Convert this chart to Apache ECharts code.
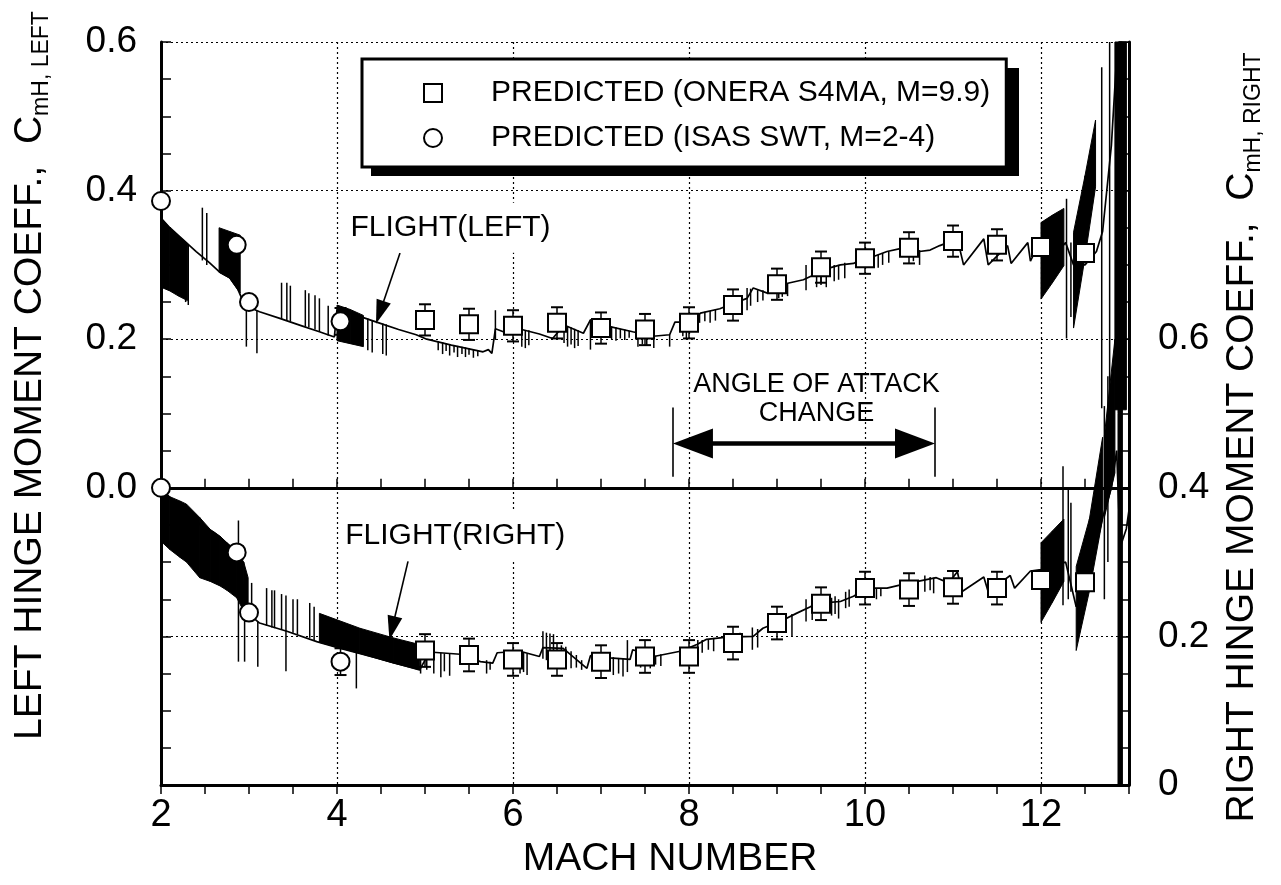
<!DOCTYPE html>
<html><head><meta charset="utf-8">
<script src="https://cdn.jsdelivr.net/npm/echarts@6/dist/echarts.min.js"></script>
<style>html,body{margin:0;padding:0;background:#fff}#c{width:1281px;height:885px}</style>
</head><body><div id="c"></div>
<script>
const FONT = "'Liberation Sans', Arial, Helvetica, sans-serif";

// ---- axis tick labels ----
const machTicks = [2, 4, 6, 8, 10, 12];
const machTickLabels = ['2', '4', '6', '8', '10', '12'];
const leftTicks = [0.0, 0.2, 0.4, 0.6];
const leftTickLabels = ['0.0', '0.2', '0.4', '0.6'];
const rightTicks = [0, 0.2, 0.4, 0.6];
const rightTickLabels = ['0', '0.2', '0.4', '0.6'];

// ---- predicted (ONERA S4MA) ----
const oneraName = 'PREDICTED (ONERA S4MA, M=9.9)';
const oneraMach = [5, 5.5, 6, 6.5, 7, 7.5, 8, 8.5, 9, 9.5, 10, 10.5, 11, 11.5, 12, 12.5];
const oneraLeft = [0.226, 0.220, 0.218, 0.222, 0.215, 0.213, 0.222, 0.246, 0.274, 0.297, 0.309, 0.323, 0.332, 0.327, 0.324, 0.316];
const oneraLeftErr = [0.021, 0.021, 0.021, 0.021, 0.021, 0.021, 0.021, 0.021, 0.021, 0.021, 0.021, 0.021, 0.021, 0.021, 0, 0];
const oneraRight = [0.181, 0.175, 0.169, 0.169, 0.166, 0.173, 0.173, 0.191, 0.218, 0.244, 0.265, 0.263, 0.266, 0.265, 0.276, 0.273];
const oneraRightErr = [0.022, 0.022, 0.022, 0.022, 0.022, 0.022, 0.022, 0.022, 0.022, 0.022, 0.022, 0.022, 0.022, 0.022, 0, 0];

// ---- predicted (ISAS SWT) ----
const isasName = 'PREDICTED (ISAS SWT, M=2-4)';
const isasMach = [2.0, 2.86, 3.0, 4.04];
const isasLeft = [0.386, 0.327, 0.250, 0.224];
const isasRight = [0.400, 0.313, 0.232, 0.166];
const isasErr = [0, 0, 0, 0.018];

// ---- flight, left (left axis units) ----
const flightLeft = [
  [2.00,0.363],[2.10,0.350],[2.25,0.334],[2.40,0.318],[2.55,0.303],[2.67,0.290],[2.78,0.283],[2.87,0.268],[2.94,0.249],[3.00,0.243],
  [3.12,0.237],[3.35,0.228],[3.60,0.218],[3.80,0.210],[3.97,0.203],[4.00,0.240],[4.15,0.235],[4.30,0.229],[4.45,0.223],[4.70,0.213],
  [4.90,0.206],[5.02,0.200],[5.30,0.192],[5.50,0.187],[5.66,0.183],[5.72,0.186],[5.76,0.181],[5.80,0.214],[5.89,0.210],[6.10,0.213],
  [6.30,0.207],[6.45,0.201],[6.58,0.219],[6.80,0.208],[6.88,0.226],[7.10,0.217],[7.36,0.210],[7.59,0.204],[7.78,0.206],[7.84,0.223],
  [7.97,0.223],[8.13,0.235],[8.35,0.241],[8.50,0.248],[8.66,0.255],[8.73,0.269],[8.89,0.262],[9.00,0.271],[9.11,0.275],[9.30,0.280],
  [9.41,0.286],[9.60,0.296],[9.72,0.300],[9.87,0.302],[9.98,0.309],[10.09,0.311],[10.25,0.318],[10.40,0.322],[10.62,0.318],[10.74,0.320],
  [10.85,0.326],[11.05,0.335],[11.12,0.300],[11.35,0.335],[11.40,0.300],[11.62,0.326],[11.66,0.302],[11.85,0.330],[11.88,0.305],[12.00,0.335],
  [12.05,0.300],[12.28,0.330],[12.37,0.300],[12.50,0.300],[12.63,0.318],[12.70,0.345],[12.80,0.461],[12.87,0.600]
];
// ---- flight, right (right axis units) ----
const flightRight = [
  [2.00,0.400],[2.15,0.380],[2.30,0.365],[2.45,0.350],[2.60,0.340],[2.75,0.325],[2.88,0.310],[2.94,0.260],[2.98,0.234],[3.05,0.225],
  [3.12,0.218],[3.43,0.207],[3.77,0.193],[4.03,0.184],[4.45,0.171],[4.94,0.155],[5.05,0.179],[5.40,0.176],[5.63,0.166],[5.77,0.164],
  [5.82,0.178],[6.08,0.180],[6.30,0.173],[6.34,0.185],[6.57,0.184],[6.84,0.157],[6.88,0.174],[7.10,0.171],[7.33,0.169],[7.36,0.182],
  [7.60,0.173],[7.90,0.180],[8.09,0.189],[8.20,0.196],[8.43,0.199],[8.73,0.200],[8.84,0.211],[9.07,0.222],[9.22,0.231],[9.38,0.240],
  [9.53,0.245],[9.72,0.247],[9.87,0.254],[10.02,0.265],[10.25,0.265],[10.43,0.270],[10.81,0.279],[10.95,0.272],[11.05,0.287],[11.10,0.260],
  [11.35,0.280],[11.40,0.260],[11.65,0.282],[11.70,0.265],[11.88,0.288],[12.00,0.290],[12.28,0.300],[12.40,0.240],[12.55,0.280],[12.70,0.360],
  [12.80,0.400],[12.86,0.450],[12.90,0.320],[12.97,0.345],[13.00,0.370]
];

// dense (black) regions of the flight traces: [mach, low, high]
const bandsLeft = [
  [[2.00,0.270,0.363],[2.10,0.265,0.350],[2.20,0.258,0.339],[2.30,0.252,0.329]],
  [[2.66,0.290,0.350],[2.78,0.282,0.345],[2.90,0.262,0.340]],
  [[4.00,0.198,0.246],[4.15,0.194,0.240],[4.30,0.190,0.232]],
  [[12.00,0.254,0.357],[12.13,0.276,0.367],[12.26,0.299,0.376]],
  [[12.37,0.215,0.344],[12.50,0.310,0.420],[12.62,0.405,0.495]],
  [[12.84,0.105,0.600],[12.97,0.105,0.600]],
  [[12.875,-0.400,0.600],[12.925,-0.400,0.600]]
];
const bandsRight = [
  [[2.00,0.328,0.400],[2.10,0.317,0.388],[2.22,0.306,0.382],[2.29,0.300,0.378],[2.44,0.279,0.360],[2.56,0.274,0.344],[2.67,0.268,0.335],[2.75,0.262,0.326],[2.86,0.252,0.315],[2.94,0.234,0.300],[2.99,0.230,0.279]],
  [[3.80,0.192,0.231],[4.26,0.177,0.211],[4.64,0.164,0.198],[4.94,0.155,0.189]],
  [[12.00,0.219,0.326],[12.13,0.246,0.342],[12.26,0.274,0.358]],
  [[12.40,0.181,0.294],[12.55,0.261,0.358],[12.70,0.358,0.468]],
  [[12.72,0.360,0.470],[12.84,0.420,0.600]]
];

// single spikes of the flight traces: [mach, low, high]
const spikesLeft = [
  [2.28,0.250,0.330],[2.31,0.246,0.327],[2.47,0.306,0.377],[2.52,0.300,0.370],[2.97,0.190,0.246],[3.09,0.181,0.238],
  [3.37,0.227,0.276],[3.43,0.225,0.276],[3.47,0.224,0.272],[3.64,0.217,0.266],[3.68,0.216,0.262],[3.75,0.213,0.259],[3.80,0.210,0.255],[3.90,0.205,0.245],
  [4.35,0.185,0.228],[4.40,0.182,0.225],[4.52,0.180,0.221],[4.56,0.178,0.220],
  [5.15,0.185,0.197],[5.20,0.180,0.196],[5.24,0.184,0.195],[5.28,0.178,0.193],[5.33,0.182,0.192],[5.37,0.176,0.191],[5.42,0.180,0.190],
  [5.46,0.176,0.189],[5.50,0.179,0.188],[5.55,0.175,0.186],[5.60,0.177,0.185],[5.80,0.199,0.239],
  [6.10,0.190,0.214],[6.14,0.188,0.212],[6.18,0.192,0.212],
  [6.58,0.195,0.219],[6.62,0.190,0.217],[6.66,0.193,0.216],[6.70,0.188,0.214],[6.74,0.191,0.212],[6.88,0.186,0.226],
  [7.12,0.200,0.217],[7.17,0.198,0.216],[7.22,0.201,0.214],[7.27,0.199,0.213],[7.32,0.202,0.211],
  [7.42,0.190,0.208],[7.47,0.193,0.207],[7.52,0.191,0.206],[7.60,0.188,0.204],[7.78,0.190,0.206],[7.93,0.204,0.223],[7.97,0.200,0.223],
  [8.12,0.222,0.235],[8.18,0.224,0.237],[8.24,0.222,0.238],[8.30,0.225,0.240],
  [8.66,0.239,0.269],[8.70,0.245,0.268],[8.78,0.250,0.266],[8.84,0.252,0.266],[9.02,0.255,0.272],[9.06,0.257,0.274],[9.12,0.258,0.275],
  [9.33,0.266,0.300],[9.45,0.270,0.292],[9.50,0.273,0.294],[9.56,0.270,0.296],[9.65,0.278,0.300],[9.70,0.280,0.300],[9.77,0.282,0.303],
  [10.15,0.296,0.314],[10.20,0.300,0.316],[10.27,0.303,0.318],[10.55,0.305,0.322],[10.62,0.300,0.320],
  [12.29,0.201,0.389],[12.34,0.230,0.330],[12.69,0.107,0.566],[12.78,0.105,0.600]
];
const spikesRight = [
  [2.88,0.166,0.356],[2.95,0.166,0.260],[3.03,0.224,0.272],[3.10,0.159,0.220],[3.20,0.214,0.265],[3.26,0.212,0.262],[3.29,0.211,0.262],
  [3.37,0.209,0.257],[3.42,0.153,0.255],[3.50,0.205,0.250],[3.55,0.203,0.250],[3.69,0.198,0.245],[3.74,0.195,0.240],[4.22,0.130,0.179],
  [4.95,0.150,0.185],[5.02,0.155,0.178],[5.10,0.150,0.178],[5.18,0.145,0.178],[5.22,0.153,0.177],[5.28,0.147,0.177],[5.70,0.150,0.168],[5.74,0.155,0.166],
  [6.08,0.150,0.180],[6.12,0.152,0.178],[6.16,0.148,0.177],[6.34,0.170,0.207],[6.38,0.168,0.205],[6.42,0.166,0.204],[6.46,0.170,0.203],
  [6.55,0.160,0.188],[6.60,0.162,0.186],[6.66,0.157,0.180],[6.72,0.158,0.175],[6.78,0.155,0.168],
  [7.14,0.148,0.172],[7.20,0.150,0.171],[7.25,0.146,0.170],[7.30,0.152,0.195],
  [7.45,0.158,0.175],[7.50,0.160,0.174],[7.56,0.157,0.173],[7.62,0.162,0.174],[7.68,0.160,0.176],
  [8.10,0.180,0.195],[8.15,0.178,0.195],[8.22,0.182,0.196],[8.28,0.180,0.198],[8.58,0.178,0.205],[8.72,0.182,0.212],[8.78,0.185,0.210],
  [9.17,0.200,0.230],[9.33,0.220,0.250],[9.40,0.222,0.242],[9.62,0.228,0.252],[9.66,0.230,0.254],[9.70,0.224,0.250],[9.78,0.238,0.260],[9.82,0.240,0.263],
  [10.06,0.252,0.265],[10.13,0.250,0.264],[10.18,0.254,0.265],[10.68,0.260,0.282],[10.74,0.262,0.280],[10.78,0.258,0.279],
  [12.25,0.242,0.429],[12.31,0.250,0.400],[12.34,0.260,0.380],[12.72,0.250,0.510],[12.76,0.300,0.550]
];

// ---- helpers ----
function pickLabel(v, ticks, labels) {
  for (let i = 0; i < ticks.length; i++) if (Math.abs(v - ticks[i]) < 1e-6) return labels[i];
  return '';
}
const bandData = bands => bands.flatMap(b => b.slice(0, -1).map((p, i) => [p[0], p[1], p[2], b[i + 1][0], b[i + 1][1], b[i + 1][2]]));
function renderBand(params, api) {
  const a = api.coord([api.value(0), api.value(2)]);
  const b = api.coord([api.value(3), api.value(5)]);
  const c = api.coord([api.value(3), api.value(4)]);
  const d = api.coord([api.value(0), api.value(1)]);
  return { type: 'polygon', shape: { points: [a, b, c, d] }, style: { fill: '#000', stroke: '#000', lineWidth: 1 } };
}
function renderSpike(params, api) {
  const a = api.coord([api.value(0), api.value(1)]);
  const b = api.coord([api.value(0), api.value(2)]);
  return { type: 'line', shape: { x1: a[0], y1: a[1], x2: b[0], y2: b[1] }, style: { stroke: '#000', lineWidth: 1.5 } };
}
function renderErr(params, api) {
  const x = api.value(0), v = api.value(1), e = api.value(2);
  if (!e) return null;
  const t = api.coord([x, v + e]), b = api.coord([x, v - e]);
  const w = 6;
  return { type: 'group', children: [
    { type: 'line', shape: { x1: t[0], y1: t[1], x2: b[0], y2: b[1] }, style: { stroke: '#000', lineWidth: 1.5 } },
    { type: 'line', shape: { x1: t[0] - w, y1: t[1], x2: t[0] + w, y2: t[1] }, style: { stroke: '#000', lineWidth: 2 } },
    { type: 'line', shape: { x1: b[0] - w, y1: b[1], x2: b[0] + w, y2: b[1] }, style: { stroke: '#000', lineWidth: 2 } }
  ] };
}
const zip3 = (m, v, e) => m.map((x, i) => [x, v[i], e[i]]);
const zip2 = (m, v) => m.map((x, i) => [x, v[i]]);

const axisLineStyle = { color: '#000', width: 3 };
const tickStyle = { color: '#000', width: 1.5 };
const gridDotted = { color: '#000', width: 1.2, type: [2, 3] };
const symStyle = { color: '#fff', borderColor: '#000', borderWidth: 2, opacity: 1 };
const annLabel = { color: '#000', fontFamily: FONT, fontSize: 30 };
const titleRich = {
  m: { fontFamily: FONT, fontSize: 39, lineHeight: 46, verticalAlign: 'middle', color: '#000' },
  s: { fontFamily: FONT, fontSize: 23, lineHeight: 20, verticalAlign: 'bottom', color: '#000' }
};

const chart = echarts.init(document.getElementById('c'), null, { renderer: 'canvas' });
chart.setOption({
  animation: false,
  backgroundColor: '#fff',
  grid: { left: 161, top: 42, width: 968, height: 743 },
  graphic: [
    { type: 'rect', z: 3, silent: true, shape: { x: 371, y: 68, width: 648, height: 108 }, style: { fill: '#000' } }
  ],
  legend: {
    left: 362, top: 59, orient: 'vertical', data: [oneraName, isasName], selectedMode: false, z: 5,
    itemWidth: 18, itemHeight: 18, itemGap: 11, padding: [17, 16, 12, 61],
    borderColor: '#000', borderWidth: 3, backgroundColor: '#fff',
    itemStyle: { color: '#fff', borderColor: '#000', borderWidth: 2, opacity: 1 },
    textStyle: { fontFamily: FONT, fontSize: 30, color: '#000', padding: [0, 0, 0, 44], lineHeight: 34 }
  },
  xAxis: [
    { type: 'value', position: 'bottom', min: 2, max: 13, interval: 0.5,
      axisLine: { lineStyle: axisLineStyle }, axisTick: { inside: true, length: 9, lineStyle: tickStyle },
      splitLine: { show: false },
      axisLabel: { color: '#000', fontFamily: FONT, fontSize: 38, margin: 12, formatter: v => pickLabel(v, machTicks, machTickLabels) },
      name: 'MACH NUMBER', nameLocation: 'middle', nameGap: 54,
      nameTextStyle: { color: '#000', fontFamily: FONT, fontSize: 39, padding: [0, 0, 0, 50] } },
    { type: 'value', position: 'top', min: 2, max: 13, interval: 0.5,
      axisLine: { lineStyle: axisLineStyle }, axisTick: { inside: true, length: 9, lineStyle: tickStyle },
      axisLabel: { show: false }, splitLine: { show: false } },
    { type: 'value', position: 'bottom', min: 2, max: 13, interval: 2,
      axisLine: { show: false }, axisTick: { show: false }, axisLabel: { show: false },
      splitLine: { show: true, lineStyle: gridDotted } }
  ],
  yAxis: [
    { type: 'value', position: 'left', min: -0.4, max: 0.6, interval: 0.05,
      axisLine: { show: true, lineStyle: axisLineStyle }, axisTick: { inside: true, length: 10, lineStyle: tickStyle },
      splitLine: { show: false },
      axisLabel: { color: '#000', fontFamily: FONT, fontSize: 37, margin: 24, formatter: v => pickLabel(v, leftTicks, leftTickLabels) },
      name: '{m|LEFT HINGE MOMENT COEFF.,  C}{s|mH, LEFT}', nameLocation: 'middle', nameRotate: 90, nameGap: 108,
      nameTextStyle: { color: '#000', fontFamily: FONT, padding: [0, 0, 0, 76], rich: titleRich } },
    { type: 'value', position: 'right', min: 0, max: 1, interval: 0.05,
      axisLine: { show: true, lineStyle: axisLineStyle }, axisTick: { inside: true, length: 10, lineStyle: tickStyle },
      splitLine: { show: false },
      axisLabel: { color: '#000', fontFamily: FONT, fontSize: 37, margin: 29, formatter: v => pickLabel(v, rightTicks, rightTickLabels) },
      name: '{m|RIGHT HINGE MOMENT COEFF.,  C}{s|mH, RIGHT}', nameLocation: 'middle', nameRotate: 90, nameGap: 90,
      nameTextStyle: { color: '#000', fontFamily: FONT, padding: [0, 48, 0, 0], rich: titleRich } },
    { type: 'value', position: 'left', min: -0.4, max: 0.6, interval: 0.2,
      axisLine: { show: false }, axisTick: { show: false }, axisLabel: { show: false },
      splitLine: { show: true, lineStyle: gridDotted } }
  ],
  series: [
    { type: 'custom', yAxisIndex: 0, data: bandData(bandsLeft), renderItem: renderBand, z: 2, silent: true },
    { type: 'custom', yAxisIndex: 1, data: bandData(bandsRight), renderItem: renderBand, z: 2, silent: true },
    { type: 'custom', yAxisIndex: 0, data: spikesLeft, renderItem: renderSpike, z: 2, silent: true },
    { type: 'custom', yAxisIndex: 1, data: spikesRight, renderItem: renderSpike, z: 2, silent: true },
    { type: 'line', name: 'FLIGHT(LEFT)', yAxisIndex: 0, data: flightLeft, showSymbol: false, z: 3, silent: true,
      lineStyle: { color: '#000', width: 1.7 },
      markLine: { silent: true, symbol: 'none', label: { show: false }, lineStyle: { color: '#000', type: 'solid', width: 1.6 },
        data: [
          { yAxis: 0, lineStyle: { width: 3, type: 'solid', color: '#000' } },
          [{ coord: [4.716, 0.316], symbol: 'none' }, { coord: [4.487, 0.236], symbol: 'triangle', symbolSize: [15, 24] }],
          [{ coord: [7.818, 0.015] }, { coord: [7.818, 0.108] }],
          [{ coord: [10.795, 0.015] }, { coord: [10.795, 0.108] }],
          [{ coord: [8.045, 0.0595], symbol: 'triangle', symbolSize: [30, 40] }, { coord: [10.568, 0.0595], symbol: 'triangle', symbolSize: [30, 40], lineStyle: { width: 4.5 } }]
        ] },
      markPoint: { silent: true, symbol: 'circle', symbolSize: 1, itemStyle: { color: 'rgba(0,0,0,0)' },
        data: [
          { name: 'FLIGHT(LEFT)', coord: [4.08, 0.350], label: { show: true, position: 'right', distance: 0, formatter: '{b}', backgroundColor: '#fff', padding: [10, 6], ...annLabel } },
          { name: 'ANGLE OF ATTACK\nCHANGE', coord: [9.45, 0.119], label: { show: true, position: 'inside', align: 'center', verticalAlign: 'middle', lineHeight: 29, formatter: '{b}', ...annLabel, fontSize: 27 } }
        ] } },
    { type: 'line', name: 'FLIGHT(RIGHT)', yAxisIndex: 1, data: flightRight, showSymbol: false, z: 3, silent: true,
      lineStyle: { color: '#000', width: 1.7 },
      markLine: { silent: true, symbol: 'none', label: { show: false }, lineStyle: { color: '#000', type: 'solid', width: 1.6 },
        data: [[{ coord: [4.807, 0.301], symbol: 'none' }, { coord: [4.627, 0.211], symbol: 'triangle', symbolSize: [15, 24] }]] },
      markPoint: { silent: true, symbol: 'circle', symbolSize: 1, itemStyle: { color: 'rgba(0,0,0,0)' },
        data: [{ name: 'FLIGHT(RIGHT)', coord: [4.02, 0.336], label: { show: true, position: 'right', distance: 0, formatter: '{b}', backgroundColor: '#fff', padding: [10, 6], ...annLabel } }] } },
    { type: 'custom', yAxisIndex: 0, data: zip3(oneraMach, oneraLeft, oneraLeftErr), renderItem: renderErr, z: 4, silent: true },
    { type: 'custom', yAxisIndex: 1, data: zip3(oneraMach, oneraRight, oneraRightErr), renderItem: renderErr, z: 4, silent: true },
    { type: 'custom', yAxisIndex: 0, data: zip3(isasMach, isasLeft, isasErr), renderItem: renderErr, z: 4, silent: true },
    { type: 'custom', yAxisIndex: 1, data: zip3(isasMach, isasRight, isasErr), renderItem: renderErr, z: 4, silent: true },
    { type: 'scatter', name: oneraName, yAxisIndex: 0, data: zip2(oneraMach, oneraLeft), symbol: 'rect', symbolSize: 18, itemStyle: symStyle, z: 6, silent: true },
    { type: 'scatter', name: oneraName, yAxisIndex: 1, data: zip2(oneraMach, oneraRight), symbol: 'rect', symbolSize: 18, itemStyle: symStyle, z: 6, silent: true },
    { type: 'scatter', name: isasName, yAxisIndex: 0, data: zip2(isasMach, isasLeft), symbol: 'circle', symbolSize: 18, itemStyle: symStyle, z: 6, silent: true },
    { type: 'scatter', name: isasName, yAxisIndex: 1, data: zip2(isasMach, isasRight), symbol: 'circle', symbolSize: 18, itemStyle: symStyle, z: 6, silent: true }
  ]
});
</script>
</body></html>
